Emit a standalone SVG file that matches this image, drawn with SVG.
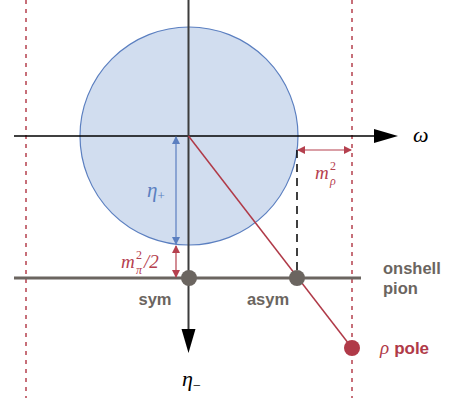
<svg xmlns="http://www.w3.org/2000/svg" width="452" height="398" viewBox="0 0 452 398">
<defs>
<style>
.dot{stroke:#b5404e;stroke-width:1.5;stroke-dasharray:4 5;fill:none}
.it{font-family:"Liberation Serif",serif;font-style:italic}
.up{font-family:"Liberation Serif",serif;font-size:12px}
.lbl{font-family:"Liberation Sans",Arial,sans-serif;font-weight:bold;font-size:16.5px;fill:#6b6560}
</style>
<marker id="ab" markerWidth="8" markerHeight="8" refX="7" refY="4" orient="auto-start-reverse" markerUnits="userSpaceOnUse"><path d="M0,0 L8,4 L0,8 Z" fill="#5b7fc0"/></marker>
<marker id="ar" markerWidth="8" markerHeight="8" refX="7" refY="4" orient="auto-start-reverse" markerUnits="userSpaceOnUse"><path d="M0,0 L8,4 L0,8 Z" fill="#b5404e"/></marker>
</defs>
<line class="dot" x1="26" y1="0" x2="26" y2="398"/>
<line class="dot" x1="352" y1="0" x2="352" y2="398"/>
<g id="circle"><circle cx="189" cy="136" r="109" fill="#d1ddef" stroke="#5b7fc0" stroke-width="1.2"/></g>
<g id="connectors">
<line x1="14" y1="136" x2="376" y2="136" stroke="#000" stroke-width="1.5"/>
<path d="M374,129 L398,136 L374,143 Z" fill="#000"/>
<line x1="188.5" y1="0" x2="188.5" y2="332" stroke="#3c3c3c" stroke-width="2"/>
<path d="M181.5,329 L188.5,353 L195.5,329 Z" fill="#000"/>
<line x1="14" y1="278" x2="361" y2="278" stroke="#6b6560" stroke-width="3"/>
<line x1="297" y1="150" x2="297" y2="272" stroke="#000" stroke-width="1.5" stroke-dasharray="8 6"/>
<line x1="188.5" y1="136" x2="352" y2="348" stroke="#b03a48" stroke-width="1.5"/>
<line x1="176" y1="137" x2="176" y2="244" stroke="#5b7fc0" stroke-width="1.2" marker-start="url(#ab)" marker-end="url(#ab)"/>
<line x1="176" y1="246" x2="176" y2="277" stroke="#b5404e" stroke-width="1.2" marker-start="url(#ar)" marker-end="url(#ar)"/>
<line x1="298" y1="150" x2="351" y2="150" stroke="#b5404e" stroke-width="1.2" marker-start="url(#ar)" marker-end="url(#ar)"/>
</g>
<g id="sym"><circle cx="189" cy="278" r="8" fill="#6b6560"/><text class="lbl" x="155" y="305" text-anchor="middle">sym</text></g>
<g id="asym"><circle cx="297" cy="278" r="8" fill="#6b6560"/><text class="lbl" x="268" y="305" text-anchor="middle">asym</text></g>
<g id="rho"><circle cx="352" cy="348" r="8" fill="#b03a48"/><text x="380" y="354" font-size="17" fill="#b03a48"><tspan class="it" font-size="19">ρ</tspan><tspan font-family="Liberation Sans,Arial,sans-serif" font-weight="bold" dx="5">pole</tspan></text></g>
<g id="onshell"><text class="lbl" x="383" y="274">onshell</text><text class="lbl" x="383" y="294">pion</text></g>
<text class="it" x="413" y="142" font-size="22" fill="#000">ω</text>
<text class="it" x="182" y="386" font-size="22" fill="#000">η<tspan font-size="14" font-style="normal" dy="4">−</tspan></text>
<text class="it" x="147" y="197" font-size="21" fill="#5b7fc0">η<tspan font-size="13" font-style="normal" dy="3">+</tspan></text>
<g fill="#b5404e">
<text class="it" x="121" y="268" font-size="19">m</text>
<text class="up" x="136" y="259">2</text>
<text class="it" x="136" y="274" font-size="12">π</text>
<text class="it" x="144" y="268" font-size="19">/2</text>
<text class="it" x="315" y="179" font-size="19">m</text>
<text class="up" x="330" y="170">2</text>
<text class="it" x="330" y="185" font-size="12">ρ</text>
</g>
</svg>
